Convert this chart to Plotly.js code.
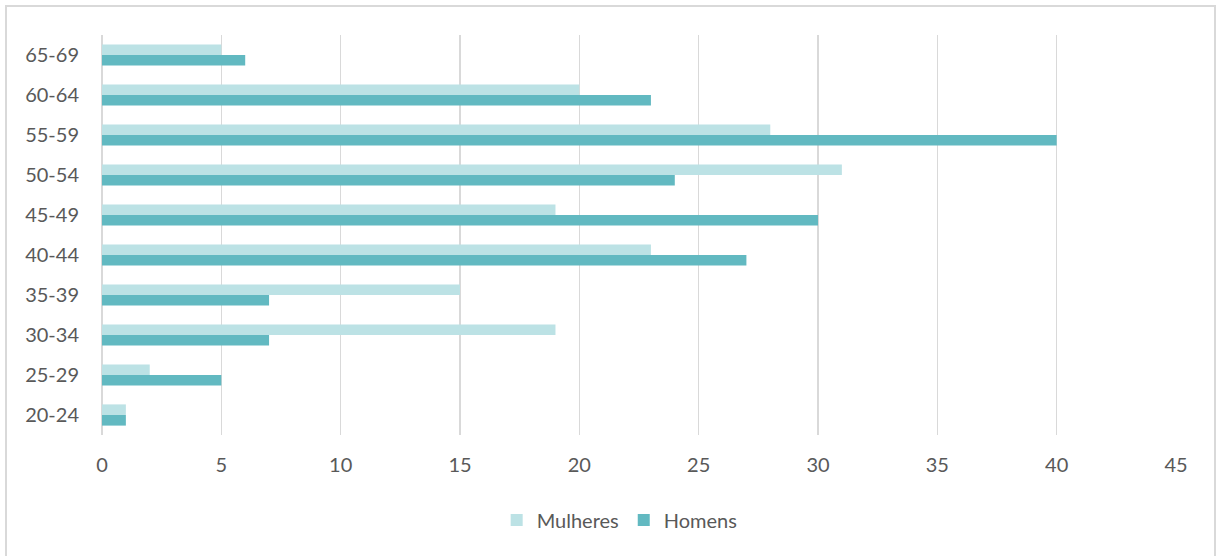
<!DOCTYPE html>
<html>
<head>
<meta charset="utf-8">
<script src="https://cdn.plot.ly/plotly-3.0.1.min.js"></script>
<style>
  html, body { margin: 0; padding: 0; background: #fff; }
  #frame { position: absolute; left: 5px; top: 5px; width: 1211px; height: 560px; border: 2px solid #D9D9D9; box-sizing: border-box; pointer-events: none; }
  #chart { position: absolute; left: 0; top: 0; width: 1219px; height: 556px; }
</style>
</head>
<body>
<div id="chart"></div>
<div id="frame"></div>
<script>
const categories = ["20-24", "25-29", "30-34", "35-39", "40-44", "45-49", "50-54", "55-59", "60-64", "65-69"];
const mulheres = [1, 2, 19, 15, 23, 19, 31, 28, 20, 5];
const homens = [1, 5, 7, 7, 27, 30, 24, 40, 23, 6];
const xTicks = [0, 5, 10, 15, 20, 25, 30, 35, 40, 45];

const traces = [
  { type: "bar", orientation: "h", name: "Homens", y: categories, x: homens,
    marker: { color: "#62B9C1" }, hoverinfo: "x+y+name" },
  { type: "bar", orientation: "h", name: "Mulheres", y: categories, x: mulheres,
    marker: { color: "#BCE2E5" }, hoverinfo: "x+y+name" }
];

const layout = {
  width: 1219, height: 556,
  margin: { l: 102, r: 43, t: 35, b: 121 },
  paper_bgcolor: "#fff", plot_bgcolor: "#fff",
  barmode: "group", bargap: 0.47, bargroupgap: 0,
  font: { family: "Lato, 'Open Sans', sans-serif", size: 20, color: "#595959" },
  xaxis: {
    range: [0, 45], tickvals: xTicks, ticktext: xTicks.map(String),
    showgrid: true, gridcolor: "#D9D9D9", gridwidth: 1.5,
    zeroline: true, zerolinecolor: "#D9D9D9", zerolinewidth: 1.5,
    showline: false, ticks: "", ticklen: 0,
    ticklabelstandoff: 16,
    tickfont: { size: 20, color: "#595959" }, fixedrange: true
  },
  yaxis: {
    type: "category", categoryarray: categories,
    showgrid: false, zeroline: false, showline: false, ticks: "",
    ticklabelstandoff: 22,
    tickfont: { size: 20, color: "#595959" }, fixedrange: true
  },
  showlegend: true,
  legend: {
    orientation: "h", traceorder: "reversed",
    x: 0.482, xanchor: "center", y: -0.2125, yanchor: "middle",
    font: { size: 20, color: "#595959" }, itemwidth: 30
  }
};

Plotly.newPlot("chart", traces, layout, { displayModeBar: false, staticPlot: true });
</script>
</body>
</html>
